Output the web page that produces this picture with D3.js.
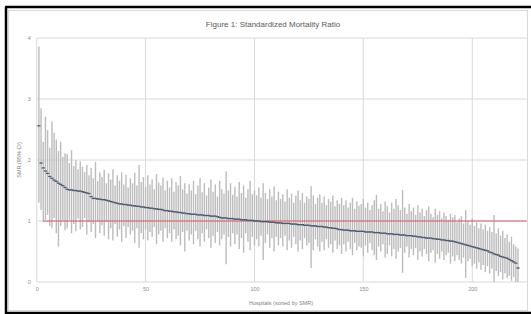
<!DOCTYPE html>
<html>
<head>
<meta charset="utf-8">
<script src="https://cdn.jsdelivr.net/npm/d3@7/dist/d3.min.js"></script>
<style>
  body { margin: 0; background: #fff; }
  svg { display: block; font-family: "Liberation Sans", Arial, sans-serif; }
</style>
</head>
<body>
<div id="chart"></div>
<script>
// hospitals 1..221, sorted by SMR
var smr = [
  2.56,1.95,1.87,1.82,1.78,1.73,1.70,1.67,1.65,1.62,
  1.60,1.58,1.55,1.52,1.51,1.51,1.50,1.50,1.49,1.49,
  1.48,1.47,1.46,1.45,1.40,1.37,1.37,1.36,1.36,1.35,
  1.35,1.34,1.33,1.32,1.31,1.30,1.29,1.28,1.28,1.27,
  1.27,1.26,1.26,1.25,1.25,1.24,1.24,1.23,1.23,1.22,
  1.22,1.21,1.21,1.20,1.20,1.19,1.19,1.18,1.17,1.17,
  1.16,1.16,1.15,1.15,1.14,1.14,1.13,1.13,1.12,1.12,
  1.11,1.11,1.11,1.10,1.10,1.10,1.09,1.09,1.09,1.08,
  1.08,1.08,1.07,1.06,1.05,1.05,1.05,1.04,1.04,1.04,
  1.03,1.03,1.03,1.02,1.02,1.02,1.01,1.01,1.01,1.00,
  1.00,1.00,0.99,0.99,0.99,0.99,0.98,0.98,0.98,0.97,
  0.97,0.97,0.96,0.96,0.96,0.96,0.95,0.95,0.95,0.94,
  0.94,0.94,0.93,0.93,0.93,0.92,0.92,0.92,0.91,0.91,
  0.91,0.90,0.90,0.89,0.89,0.88,0.88,0.87,0.86,0.86,
  0.85,0.85,0.85,0.84,0.84,0.84,0.83,0.83,0.83,0.83,
  0.82,0.82,0.82,0.82,0.81,0.81,0.81,0.80,0.80,0.80,
  0.79,0.79,0.79,0.78,0.78,0.78,0.77,0.77,0.77,0.76,
  0.76,0.76,0.75,0.75,0.74,0.74,0.73,0.73,0.72,0.72,
  0.72,0.71,0.71,0.70,0.70,0.69,0.69,0.68,0.68,0.67,
  0.67,0.66,0.65,0.64,0.63,0.62,0.61,0.60,0.59,0.58,
  0.57,0.56,0.55,0.54,0.53,0.52,0.51,0.49,0.48,0.46,
  0.45,0.44,0.42,0.41,0.40,0.39,0.37,0.35,0.33,0.31,
  0.23
];
var ciLow = [
  1.30,1.18,0.98,1.02,1.10,0.92,0.88,1.05,0.80,0.58,
  0.92,1.00,0.85,0.88,1.02,0.80,0.95,0.83,1.04,0.86,
  0.90,1.05,0.78,0.98,0.82,0.95,0.72,1.00,0.80,0.93,
  0.76,0.98,0.70,0.88,0.68,0.95,0.74,0.86,0.66,0.92,
  0.72,0.90,0.78,0.84,0.64,0.88,0.56,0.80,0.70,0.86,
  0.68,0.82,0.74,0.90,0.62,0.78,0.84,0.66,0.88,0.72,
  0.80,0.66,0.86,0.70,0.76,0.60,0.82,0.50,0.84,0.68,
  0.78,0.62,0.84,0.70,0.58,0.80,0.66,0.86,0.72,0.56,
  0.76,0.64,0.82,0.60,0.70,0.78,0.29,0.74,0.58,0.80,
  0.62,0.78,0.54,0.72,0.48,0.80,0.66,0.52,0.74,0.60,
  0.70,0.58,0.76,0.36,0.64,0.78,0.56,0.72,0.50,0.74,
  0.60,0.72,0.58,0.76,0.52,0.68,0.56,0.74,0.62,0.50,
  0.68,0.54,0.72,0.60,0.64,0.23,0.52,0.70,0.58,0.50,
  0.66,0.52,0.70,0.56,0.62,0.48,0.68,0.54,0.60,0.46,
  0.62,0.50,0.66,0.54,0.44,0.64,0.52,0.58,0.56,0.42,
  0.60,0.48,0.64,0.52,0.44,0.36,0.58,0.50,0.62,0.40,
  0.46,0.60,0.42,0.54,0.38,0.50,0.56,0.15,0.48,0.58,
  0.40,0.54,0.44,0.56,0.36,0.50,0.42,0.54,0.46,0.34,
  0.48,0.52,0.32,0.46,0.38,0.50,0.36,0.44,0.48,0.30,
  0.42,0.34,0.44,0.36,0.30,0.40,0.07,0.34,0.38,0.26,
  0.30,0.22,0.32,0.20,0.28,0.16,0.26,0.14,0.22,0.00,
  0.18,0.10,0.16,0.04,0.14,0.06,0.10,0.02,0.08,0.00,
  0.00
];
var ciHigh = [
  3.86,2.85,2.30,2.71,2.49,2.20,2.63,2.45,2.33,2.15,
  2.30,2.05,2.11,2.10,1.95,2.16,1.90,2.00,1.85,1.98,
  1.89,1.80,1.92,1.75,1.87,1.70,1.97,1.65,1.80,1.72,
  1.84,1.62,1.78,1.68,1.85,1.58,1.75,1.66,1.80,1.60,
  1.76,1.55,1.70,1.62,1.79,1.58,1.92,1.64,1.72,1.56,
  1.75,1.60,1.68,1.52,1.77,1.63,1.58,1.71,1.50,1.66,
  1.55,1.70,1.48,1.64,1.58,1.74,1.52,1.62,1.45,1.60,
  1.50,1.66,1.44,1.58,1.70,1.47,1.62,1.42,1.55,1.68,
  1.48,1.60,1.40,1.66,1.52,1.45,1.81,1.50,1.62,1.43,
  1.56,1.40,1.64,1.46,1.58,1.38,1.52,1.66,1.44,1.50,
  1.42,1.55,1.38,1.62,1.46,1.36,1.52,1.40,1.57,1.34,
  1.48,1.36,1.44,1.32,1.52,1.38,1.45,1.30,1.42,1.50,
  1.34,1.46,1.30,1.40,1.36,1.57,1.42,1.28,1.38,1.44,
  1.30,1.40,1.26,1.36,1.32,1.42,1.24,1.34,1.28,1.38,
  1.26,1.34,1.22,1.30,1.38,1.20,1.32,1.25,1.28,1.36,
  1.22,1.30,1.18,1.26,1.34,1.43,1.20,1.28,1.16,1.32,
  1.24,1.14,1.30,1.20,1.36,1.26,1.18,1.51,1.22,1.12,
  1.28,1.16,1.22,1.10,1.26,1.14,1.20,1.08,1.18,1.24,
  1.12,1.06,1.20,1.10,1.16,1.04,1.14,1.08,1.02,1.12,
  1.06,1.10,0.98,1.04,1.08,0.96,1.18,1.00,0.94,1.04,
  0.92,0.98,0.88,0.96,0.86,0.94,0.84,0.90,0.82,1.10,
  0.80,0.88,0.76,0.84,0.72,0.78,0.66,0.74,0.62,0.58,
  0.55
];
var refX = [3, 225];
var refY = [1, 1];
var xTicks = [0, 50, 100, 150, 200];
var yTicks = [0, 1, 2, 3, 4];

var W = 531, H = 314;
var svg = d3.select('#chart').append('svg').attr('width', W).attr('height', H);

// frame
svg.append('rect').attr('x', 8.5).attr('y', 10.5).attr('width', 519).attr('height', 300)
  .attr('fill', 'none').attr('stroke', '#d9d9d9');
svg.append('path').attr('d', 'M5,7H531M6,7V314M5,313H531')
  .attr('fill', 'none').attr('stroke', '#000').attr('stroke-width', 2.5);

var x = d3.scaleLinear().domain([0, 225]).range([36.7, 526.7]);
var y = d3.scaleLinear().domain([0, 4]).range([282, 38]);

// grid
var g = svg.append('g');
g.selectAll('.hg').data(yTicks).enter().append('line')
  .attr('x1', x(0)).attr('x2', x(225))
  .attr('y1', d => y(d)).attr('y2', d => y(d))
  .attr('stroke', '#d9d9d9').attr('stroke-width', 1);
g.selectAll('.vg').data(xTicks).enter().append('line')
  .attr('x1', d => x(d)).attr('x2', d => x(d))
  .attr('y1', y(0)).attr('y2', y(4))
  .attr('stroke', '#d9d9d9').attr('stroke-width', 1);

// axes (labels only)
var xAxis = d3.axisBottom(x).tickValues(xTicks).tickSize(0).tickPadding(5).tickFormat(d3.format('d'));
var yAxis = d3.axisLeft(y).tickValues(yTicks).tickSize(0).tickPadding(6).tickFormat(d3.format('d'));
var gx = svg.append('g').attr('transform', 'translate(0,' + y(0) + ')').call(xAxis);
var gy = svg.append('g').attr('transform', 'translate(' + x(0) + ',0)').call(yAxis);
[gx, gy].forEach(a => {
  a.select('.domain').remove();
  a.selectAll('text').attr('font-size', 5.5).attr('fill', '#8c8c8c')
    .attr('font-family', '"Liberation Sans", Arial, sans-serif');
});

// error bars
var idx = d3.range(smr.length);
svg.append('g').selectAll('line').data(idx).enter().append('line')
  .attr('x1', i => x(i + 1)).attr('x2', i => x(i + 1))
  .attr('y1', i => y(ciLow[i])).attr('y2', i => y(ciHigh[i]))
  .attr('stroke', '#bcbcbc').attr('stroke-width', 1.4);

// reference line
svg.append('line')
  .attr('x1', x(refX[0])).attr('x2', x(refX[1]))
  .attr('y1', y(refY[0])).attr('y2', y(refY[1]))
  .attr('stroke', '#e05a5a').attr('stroke-width', 1);

// SMR markers
svg.append('g').selectAll('line').data(idx).enter().append('line')
  .attr('x1', i => x(i + 1) - 1.6).attr('x2', i => x(i + 1) + 1.6)
  .attr('y1', i => y(smr[i])).attr('y2', i => y(smr[i]))
  .attr('stroke', '#4a5a74').attr('stroke-width', 1.3);

// texts
svg.append('text').attr('x', 273).attr('y', 27).attr('text-anchor', 'middle')
  .attr('font-size', 8).attr('fill', '#595959')
  .text('Figure 1: Standardized Mortality Ratio');
svg.append('text').attr('x', 281).attr('y', 305).attr('text-anchor', 'middle')
  .attr('font-size', 5.5).attr('fill', '#7f7f7f')
  .text('Hospitals (sorted by SMR)');
svg.append('text').attr('transform', 'translate(21,160) rotate(-90)')
  .attr('text-anchor', 'middle').attr('font-size', 5.5).attr('fill', '#7f7f7f')
  .text('SMR (95% CI)');
</script>
</body>
</html>
